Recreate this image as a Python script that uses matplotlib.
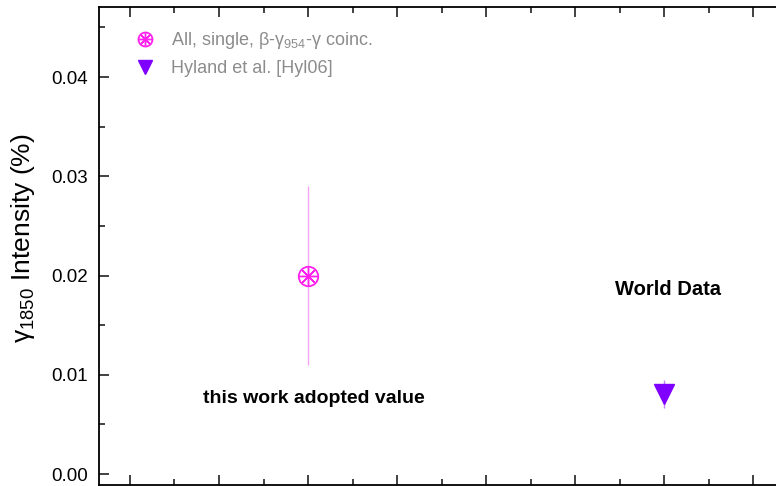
import matplotlib
matplotlib.use("Agg")
import matplotlib.pyplot as plt
from matplotlib.ticker import MultipleLocator, NullFormatter, FormatStrFormatter

plt.rcParams['font.family'] = ['Liberation Sans', 'DejaVu Sans']
plt.rcParams['mathtext.fontset'] = 'custom'
plt.rcParams['mathtext.rm'] = 'Liberation Sans'
plt.rcParams['mathtext.it'] = 'Liberation Sans'

# intensity of the 1850 keV gamma line (%)
this_x = [2]
this_y = [0.020]
this_err = [0.009]
this_label = 'All, single, β-γ$_{954}$-γ coinc.'

world_x = [6]
world_y = [0.0081]
world_err = [0.0014]
world_label = 'Hyland et al. [Hyl06]'

yticks = [0.00, 0.01, 0.02, 0.03, 0.04]

fig = plt.figure(figsize=(7.76, 4.86), dpi=100)
ax = fig.add_axes([0.1276, 0.002, 0.9575, 0.9845])

# this work: circle with an asterisk inside
ax.errorbar(this_x, this_y, yerr=this_err, fmt='none', ecolor='#f2a6f5', elinewidth=1.0)
ring, = ax.plot(this_x, this_y, ls='none', marker='o', ms=14, mfc='none',
                mec='#ff22ee', mew=1.3)
star, = ax.plot(this_x, this_y, ls='none', marker=(8, 2, 0), ms=13,
                mec='#ff22ee', mew=1.0)

# world data
ax.errorbar(world_x, world_y, yerr=world_err, fmt='none', ecolor='#c080ff', elinewidth=1.0)
tri, = ax.plot(world_x, world_y, ls='none', marker='v', ms=14,
               color='#8000ff', mec='#8000ff')

ax.text(2.07, 0.0076, 'this work adopted value', ha='center', va='center',
        fontsize=14, fontweight='bold')
ax.text(6.04, 0.0186, 'World Data', ha='center', va='center',
        fontsize=14.5, fontweight='bold')

leg = ax.legend([(ring, star), tri], [this_label, world_label],
                loc='upper left', bbox_to_anchor=(0.026, 0.988), frameon=False,
                fontsize=13, markerscale=0.72, handlelength=1.0,
                handletextpad=0.9, labelspacing=0.5, borderaxespad=0.6)
for t in leg.get_texts():
    t.set_color('#8c8c8c')

ax.set_xlim(-0.348, 8)
ax.set_ylim(-0.00111, 0.0471)
ax.set_yticks(yticks)
ax.yaxis.set_minor_locator(MultipleLocator(0.005))
ax.yaxis.set_major_formatter(FormatStrFormatter('%.2f'))
ax.xaxis.set_major_locator(MultipleLocator(1))
ax.xaxis.set_minor_locator(MultipleLocator(0.5))
ax.xaxis.set_major_formatter(NullFormatter())

ax.tick_params(which='both', direction='in', top=True, right=True,
               color='#333333', width=1.3, labelsize=13.5, pad=8)
ax.tick_params(which='major', length=7)
ax.tick_params(which='minor', length=4.5)
for s in ax.spines.values():
    s.set_linewidth(1.3)

ax.set_ylabel('γ$_{1850}$ Intensity (%)', fontsize=19)
ax.yaxis.set_label_coords(-0.083, 0.515)

fig.savefig('out.png', dpi=100)
